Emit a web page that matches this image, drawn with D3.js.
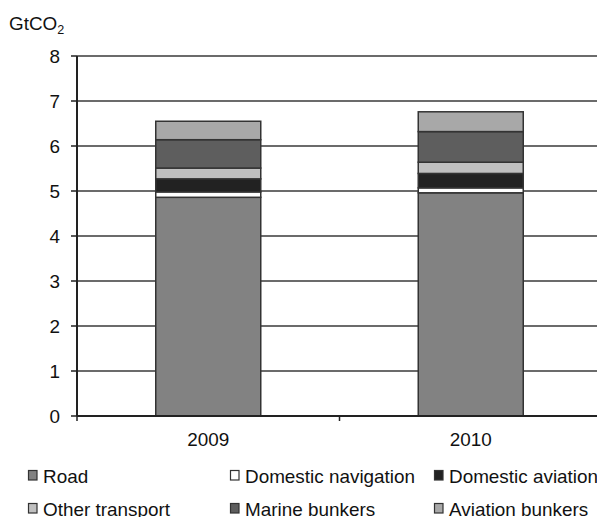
<!DOCTYPE html>
<html>
<head>
<meta charset="utf-8">
<script src="https://cdn.jsdelivr.net/npm/d3@7"></script>
<style>
  html, body { margin: 0; padding: 0; background: #fff; }
  svg { display: block; font-family: "Liberation Sans", Arial, sans-serif; }
</style>
</head>
<body>
<svg id="chart" width="597" height="517"></svg>
<script>
// Transport CO2 emissions by mode (GtCO2)
const years = ["2009", "2010"];
const seriesNames = ["Road", "Domestic navigation", "Domestic aviation", "Other transport", "Marine bunkers", "Aviation bunkers"];
const road              = [4.86, 4.96];
const domesticNav       = [0.12, 0.11];
const domesticAviation  = [0.29, 0.32];
const otherTransport    = [0.24, 0.25];
const marineBunkers     = [0.63, 0.68];
const aviationBunkers   = [0.41, 0.44];
const yTicks = [0, 1, 2, 3, 4, 5, 6, 7, 8];

const seriesValues = [road, domesticNav, domesticAviation, otherTransport, marineBunkers, aviationBunkers];
const colors = ["#828282", "#ffffff", "#222222", "#c0c0c0", "#5e5e5e", "#a8a8a8"];

const svg = d3.select("#chart");
const W = 597;
const FONT = 18;
const STRETCH = 1.05; // slightly wide lettering

const x = d3.scaleBand().domain(years).range([77, 602]).paddingInner(0.6).paddingOuter(0.3);
const y = d3.scaleLinear().domain([0, 8]).range([416, 56]);

// table for the stack
const rows = years.map((yr, i) => {
  const r = { year: yr };
  seriesNames.forEach((s, k) => r[s] = seriesValues[k][i]);
  return r;
});
const stacked = d3.stack().keys(seriesNames)(rows);

// gridlines
svg.append("g").selectAll("line").data(yTicks.filter(d => d > 0)).join("line")
  .attr("x1", 77).attr("x2", W)
  .attr("y1", d => y(d)).attr("y2", d => y(d))
  .attr("stroke", "#3a3a3a").attr("stroke-width", 1.6);

// bars
svg.append("g").selectAll("g").data(stacked).join("g")
  .attr("fill", (d, i) => colors[i])
  .selectAll("rect").data(d => d).join("rect")
  .attr("x", d => x(d.data.year))
  .attr("width", x.bandwidth())
  .attr("y", d => y(d[1]))
  .attr("height", d => y(d[0]) - y(d[1]))
  .attr("stroke", "#333").attr("stroke-width", 1.5);

// text helper: places a label with slight horizontal stretch around its anchor
function label(parent, tx, ty, anchor) {
  return parent.append("g").attr("transform", `translate(${tx},${ty}) scale(${STRETCH},1)`)
    .append("text").attr("text-anchor", anchor).attr("font-size", FONT).attr("fill", "#111");
}

// y axis
svg.append("line").attr("x1", 77).attr("x2", 77).attr("y1", y(8)).attr("y2", y(0))
  .attr("stroke", "#222").attr("stroke-width", 2);
const yTickG = svg.append("g");
yTicks.forEach(t => {
  yTickG.append("line").attr("x1", 71).attr("x2", 77).attr("y1", y(t)).attr("y2", y(t))
    .attr("stroke", "#222").attr("stroke-width", 1.5);
  label(yTickG, 60, y(t) + 6.5, "end").text(d3.format("d")(t));
});

// x axis line and boundary ticks
svg.append("line").attr("x1", 77).attr("x2", W).attr("y1", y(0)).attr("y2", y(0))
  .attr("stroke", "#222").attr("stroke-width", 2);
const bounds = [x.range()[0], x.range()[0] + x.step()];
svg.append("g").selectAll("line").data(bounds).join("line")
  .attr("x1", d => d).attr("x2", d => d)
  .attr("y1", y(0)).attr("y2", y(0) + 5)
  .attr("stroke", "#222").attr("stroke-width", 1.5);
const xLab = svg.append("g");
years.forEach(yr => label(xLab, x(yr) + x.bandwidth() / 2, 446, "middle").text(yr));

// unit label
const unit = label(svg, 9, 30, "start");
unit.append("tspan").text("GtCO");
unit.append("tspan").attr("font-size", 12).attr("dy", 4).text("2");

// legend
const legendPos = [[28, 470], [230, 470], [434, 470], [28, 503], [230, 503], [434, 503]];
const leg = svg.append("g");
seriesNames.forEach((name, i) => {
  const [lx, ly] = legendPos[i];
  leg.append("rect").attr("x", lx + 0.5).attr("y", ly + 0.5).attr("width", 8.5).attr("height", 9.5)
    .attr("fill", colors[i]).attr("stroke", "#333").attr("stroke-width", 1.2);
  label(leg, lx + 15, ly + 12.5, "start").text(name);
});
</script>
</body>
</html>
